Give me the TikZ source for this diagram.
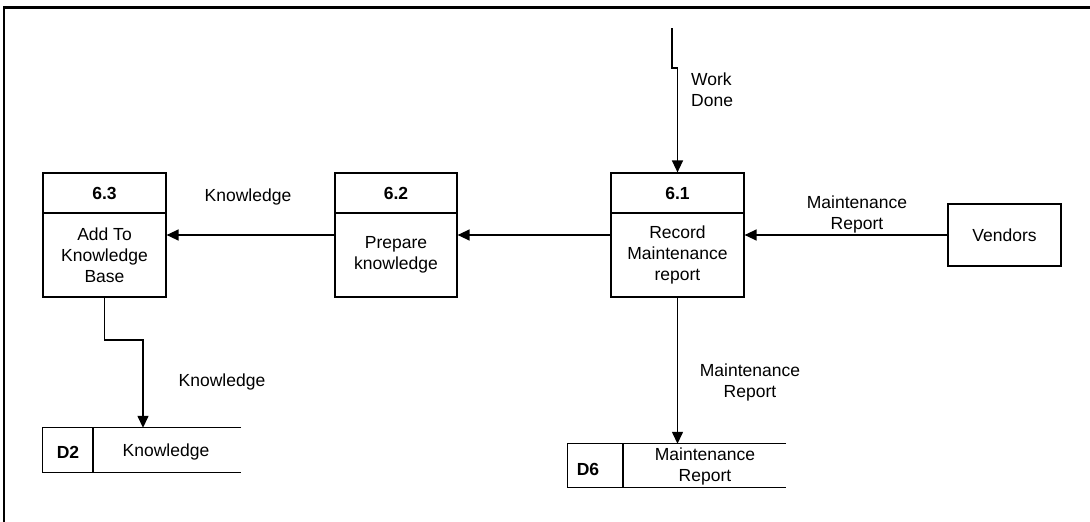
\documentclass[tikz,border=0pt]{standalone}
\usepackage{fontspec}
\setmainfont{Liberation Sans}
\usetikzlibrary{arrows.meta}
\begin{document}
\begin{tikzpicture}[x=1pt,y=-1pt,
  font=\fontsize{17.5}{21}\selectfont,
  proc/.style={draw,line width=1.2pt,rectangle,inner sep=0pt},
  ent/.style={draw,line width=1.2pt,rectangle,inner sep=0pt},
  store/.style={rectangle,inner sep=0pt},
  flow/.style={line width=1.4pt,-{Triangle[length=12pt,width=11pt]}},
  lbl/.style={align=center,inner sep=0pt},
  idt/.style={inner sep=0pt,font=\fontsize{17.5}{21}\selectfont\bfseries}]
\useasboundingbox (0,0) rectangle (1090,522);
% frame
\draw[line width=3pt] (3,7.5) coordinate (fa) -- (1090,7.5) coordinate (fb);
\draw[line width=1.2pt] (4,7) coordinate (fc) -- (4,522) coordinate (fd);

% process 6.3
\node[proc,minimum width=123pt,minimum height=124pt] (p63) at (104.5,235) {};
\draw[line width=1.2pt] (p63.west |- 0,213) -- (p63.east |- 0,213);
\node[idt] (p63id) at (104.5,193) {6.3};
\node[lbl] (p63t) at (104.5,255) {Add To\\Knowledge\\Base};

% process 6.2
\node[proc,minimum width=122pt,minimum height=124pt] (p62) at (396,235) {};
\draw[line width=1.2pt] (p62.west |- 0,213) -- (p62.east |- 0,213);
\node[idt] (p62id) at (396,193) {6.2};
\node[lbl] (p62t) at (396,255) {Prepare\\knowledge};

% process 6.1
\node[proc,minimum width=133pt,minimum height=124pt] (p61) at (677.5,235) {};
\draw[line width=1.2pt] (p61.west |- 0,213) -- (p61.east |- 0,213);
\node[idt] (p61id) at (677.5,193) {6.1};
\node[lbl] (p61t) at (677.5,255) {Record\\Maintenance\\report};

% external entity
\node[ent,minimum width=113pt,minimum height=62pt] (ven) at (1004.5,235) {Vendors};

% data store D2
\node[store,minimum width=198pt,minimum height=44pt] (d2) at (142,450) {};
\draw[line width=1.2pt] (d2.north east) -- (d2.north west) -- (d2.south west) -- (d2.south east);
\draw[line width=1.2pt] (93,428) -- (93,472);
\node[idt] (d2id) at (68,452) {D2};
\node[lbl] (d2t) at (166,452) {Knowledge};

% data store D6
\node[store,minimum width=218pt,minimum height=43pt] (d6) at (677,465.5) {};
\draw[line width=1.2pt] (d6.north east) -- (d6.north west) -- (d6.south west) -- (d6.south east);
\draw[line width=1.2pt] (623,444) -- (623,487);
\node[idt] (d6id) at (588,469) {D6};
\node[lbl] (d6t) at (705,466) {Maintenance\\Report};

% flows
\draw[flow] (ven.west) -- (p61.east);
\draw[flow] (p61.west) -- (p62.east);
\draw[flow] (p62.west) -- (p63.east);
\coordinate (wd0) at (672,28);
\coordinate (wd1) at (672,68);
\draw[flow] (wd0) -- (wd1) -- (wd1 -| p61.north) -- (p61.north);
\draw[flow] (p61.south) -- (p61.south |- d6.north);
\coordinate (k1) at (143,340);
\draw[flow] (p63.south) |- (k1) -- (k1 |- d2.north);

% labels
\node[lbl] (l1) at (248,197) {Knowledge};
\node[lbl] (l2) at (857,214) {Maintenance\\Report};
\node[lbl,anchor=west,align=left] (l3) at (691,89.5) {Work\\Done};
\node[lbl] (l4) at (750,382) {Maintenance\\Report};
\node[lbl] (l5) at (222,382) {Knowledge};
\end{tikzpicture}
\end{document}
